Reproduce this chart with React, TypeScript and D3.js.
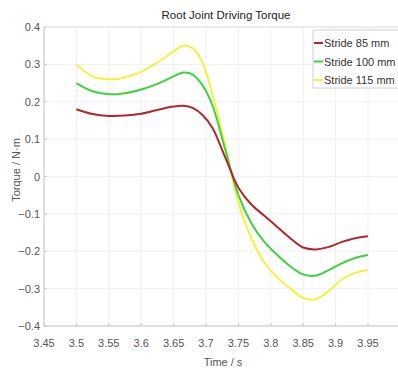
import React, { useEffect, useRef } from "react";
import * as d3 from "d3";

// time (s)
const times = [3.5, 3.525, 3.55, 3.575, 3.6, 3.625, 3.65, 3.665, 3.68, 3.695, 3.71, 3.73, 3.75, 3.77, 3.79, 3.81, 3.83, 3.85, 3.87, 3.89, 3.91, 3.93, 3.95];

const stride85 = [0.18, 0.167, 0.162, 0.163, 0.168, 0.178, 0.187, 0.189, 0.183, 0.164, 0.13, 0.05, -0.03, -0.075, -0.105, -0.135, -0.165, -0.19, -0.195, -0.188, -0.175, -0.165, -0.16];
const stride100 = [0.25, 0.228, 0.22, 0.223, 0.233, 0.248, 0.268, 0.278, 0.272, 0.243, 0.19, 0.07, -0.05, -0.125, -0.175, -0.21, -0.24, -0.262, -0.265, -0.25, -0.232, -0.218, -0.21];
const stride115 = [0.3, 0.268, 0.26, 0.265, 0.28, 0.305, 0.335, 0.35, 0.343, 0.303, 0.22, 0.08, -0.07, -0.165, -0.23, -0.27, -0.3, -0.325, -0.328, -0.305, -0.275, -0.258, -0.25];

const seriesNames = ["Stride 85 mm", "Stride 100 mm", "Stride 115 mm"];
const seriesColors = ["#b3262e", "#3fd23f", "#f2f23c"];

const xTicks = [3.45, 3.5, 3.55, 3.6, 3.65, 3.7, 3.75, 3.8, 3.85, 3.9, 3.95, 4.0];
const yTicks = [-0.4, -0.3, -0.2, -0.1, 0, 0.1, 0.2, 0.3, 0.4];

export default function App() {
  const ref = useRef<SVGSVGElement>(null);

  useEffect(() => {
    const width = 398;
    const height = 372;
    const left = 44, top = 27, bottom = 326;
    const font = "'Liberation Sans', Arial, sans-serif";

    const svg = d3.select(ref.current);
    svg.selectAll("*").remove();
    svg.attr("width", width).attr("height", height);

    const x = d3.scaleLinear().domain([3.45, 4.0]).range([left, left + 11 * 32.4]);
    const y = d3.scaleLinear().domain([-0.4, 0.4]).range([bottom, top]);

    svg.append("rect").attr("width", width).attr("height", height).attr("fill", "#fff");

    // grid
    svg.append("g").selectAll("line").data(xTicks).join("line")
      .attr("x1", d => x(d)).attr("x2", d => x(d)).attr("y1", top).attr("y2", bottom)
      .attr("stroke", "#f0f0f0").attr("stroke-width", 1);
    svg.append("g").selectAll("line").data(yTicks).join("line")
      .attr("x1", left).attr("x2", x(4.0)).attr("y1", d => y(d)).attr("y2", d => y(d))
      .attr("stroke", "#f0f0f0").attr("stroke-width", 1);

    // plot box
    svg.append("line").attr("x1", left).attr("x2", x(4.0)).attr("y1", top).attr("y2", top).attr("stroke", "#e2e2e2");
    svg.append("line").attr("x1", left).attr("x2", x(4.0)).attr("y1", bottom).attr("y2", bottom).attr("stroke", "#c8c8c8");
    svg.append("line").attr("x1", left).attr("x2", left).attr("y1", top).attr("y2", bottom).attr("stroke", "#c8c8c8");

    // ticks
    svg.append("g").selectAll("line").data(xTicks).join("line")
      .attr("x1", d => x(d)).attr("x2", d => x(d)).attr("y1", bottom).attr("y2", bottom - 3)
      .attr("stroke", "#c8c8c8");
    svg.append("g").selectAll("line").data(yTicks).join("line")
      .attr("x1", left).attr("x2", left + 3).attr("y1", d => y(d)).attr("y2", d => y(d))
      .attr("stroke", "#c8c8c8");

    // tick labels
    svg.append("g").selectAll("text").data(xTicks.filter(d => d < 3.99)).join("text")
      .attr("x", d => x(d)).attr("y", bottom + 21).attr("text-anchor", "middle")
      .style("font-family", font).style("font-size", "11px").attr("fill", "#555")
      .text(d => d3.format("")(+d.toFixed(2)));
    svg.append("g").selectAll("text").data(yTicks).join("text")
      .attr("x", left - 4).attr("y", d => y(d) + 4).attr("text-anchor", "end")
      .style("font-family", font).style("font-size", "11px").attr("fill", "#555")
      .text(d => d3.format("")(+d.toFixed(1)));

    // titles
    svg.append("text").attr("x", 226).attr("y", 19).attr("text-anchor", "middle")
      .style("font-family", font).style("font-size", "11.5px").attr("fill", "#222")
      .text("Root Joint Driving Torque");
    svg.append("text").attr("x", 223).attr("y", 366).attr("text-anchor", "middle")
      .style("font-family", font).style("font-size", "11px").attr("fill", "#555")
      .text("Time / s");
    svg.append("text").attr("transform", "rotate(-90)").attr("x", -170).attr("y", 20).attr("text-anchor", "middle")
      .style("font-family", font).style("font-size", "11px").attr("fill", "#555")
      .text("Torque / N\u00b7m");

    // lines
    const allSeries = [stride85, stride100, stride115];
    const line = d3.line<number>().x((d, i) => x(times[i])).y(d => y(d)).curve(d3.curveCatmullRom.alpha(0.5));
    const order = [2, 1, 0];
    order.forEach(k => {
      svg.append("path").datum(allSeries[k]).attr("d", line).attr("fill", "none")
        .attr("stroke", seriesColors[k]).attr("stroke-width", 2).attr("stroke-linejoin", "round");
    });

    // legend
    const legend = svg.append("g").attr("transform", "translate(313,30)");
    legend.append("rect").attr("width", 90).attr("height", 58).attr("fill", "#fff").attr("stroke", "#d0d0d0");
    seriesNames.forEach((name, i) => {
      const ly = 13 + i * 18.5;
      legend.append("line").attr("x1", 1).attr("x2", 10).attr("y1", ly).attr("y2", ly)
        .attr("stroke", seriesColors[i]).attr("stroke-width", 2);
      legend.append("text").attr("x", 11).attr("y", ly + 4)
        .style("font-family", font).style("font-size", "11px").attr("fill", "#333")
        .text(name);
    });
  }, []);

  return <svg ref={ref} style={{ position: "absolute", left: 0, top: 0 }}></svg>;
}
